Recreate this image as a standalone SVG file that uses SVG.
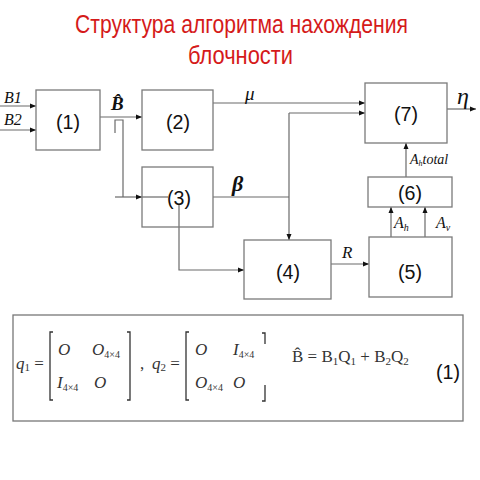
<svg xmlns="http://www.w3.org/2000/svg" width="480" height="480" viewBox="0 0 480 480">
<defs>
<marker id="ah" markerWidth="6" markerHeight="6" refX="6" refY="3" orient="auto" markerUnits="userSpaceOnUse">
<path d="M0,0.5 L6,3 L0,5.5 Z" fill="#111"/>
</marker>
<style>
.box{fill:#fff;stroke:#7a7a7a;stroke-width:1.3}
.ln{fill:none;stroke:#6a6a6a;stroke-width:1.2}
.num{font-family:"Liberation Sans",Arial,sans-serif;font-size:20px;fill:#111;text-anchor:middle}
.m{font-family:"Liberation Serif","Times New Roman",serif;font-style:italic;fill:#111}
.f{font-family:"Liberation Serif","Times New Roman",serif;fill:#333}
.title{font-family:"Liberation Sans",Arial,sans-serif;font-size:26px;fill:#d51a1a}
</style>
</defs>
<rect width="480" height="480" fill="#fff"/>
<text class="title" x="75" y="33" textLength="333" lengthAdjust="spacingAndGlyphs">Структура алгоритма нахождения</text>
<text class="title" x="188" y="64" textLength="105" lengthAdjust="spacingAndGlyphs">блочности</text>

<g id="connectors">
<line class="ln" x1="0" y1="106" x2="36" y2="106" marker-end="url(#ah)"/>
<line class="ln" x1="0" y1="130" x2="36" y2="130" marker-end="url(#ah)"/>
<line class="ln" x1="100" y1="117" x2="142" y2="117" marker-end="url(#ah)"/>
<path class="ln" d="M115,133 V120 H123 V197"/>
<line class="ln" x1="115" y1="197" x2="142" y2="197" marker-end="url(#ah)"/>
<line class="ln" x1="142" y1="197" x2="168" y2="197"/>
<path class="ln" d="M179,205 V270 H244" marker-end="url(#ah)"/>
<line class="ln" x1="213" y1="103" x2="365" y2="103" marker-end="url(#ah)"/>
<line class="ln" x1="213" y1="197" x2="289" y2="197"/>
<path class="ln" d="M289,113 V240" marker-end="url(#ah)"/>
<line class="ln" x1="289" y1="113" x2="365" y2="113" marker-end="url(#ah)"/>
<line class="ln" x1="331" y1="264" x2="369" y2="264" marker-end="url(#ah)"/>
<line class="ln" x1="391" y1="237" x2="391" y2="207" marker-end="url(#ah)"/>
<line class="ln" x1="425" y1="237" x2="425" y2="207" marker-end="url(#ah)"/>
<line class="ln" x1="406" y1="177" x2="406" y2="143" marker-end="url(#ah)"/>
<line class="ln" x1="447" y1="109" x2="476" y2="109" marker-end="url(#ah)"/>
</g>

<g id="n1"><rect class="box" x="36" y="90" width="64" height="60"/><text class="num" x="68" y="129" textLength="24" lengthAdjust="spacingAndGlyphs">(1)</text></g>
<g id="n2"><rect class="box" x="142" y="90" width="71" height="60"/><text class="num" x="178" y="129" textLength="24" lengthAdjust="spacingAndGlyphs">(2)</text></g>
<g id="n3"><rect class="box" x="142" y="167" width="71" height="60" style="fill:none"/><text class="num" x="179" y="205" textLength="24" lengthAdjust="spacingAndGlyphs">(3)</text></g>
<g id="n4"><rect class="box" x="244" y="240" width="87" height="59"/><text class="num" x="288" y="279" textLength="24" lengthAdjust="spacingAndGlyphs">(4)</text></g>
<g id="n5"><rect class="box" x="369" y="237" width="83" height="60"/><text class="num" x="410" y="279" textLength="24" lengthAdjust="spacingAndGlyphs">(5)</text></g>
<g id="n6"><rect class="box" x="368" y="177" width="84" height="30"/><text class="num" x="410" y="200" textLength="24" lengthAdjust="spacingAndGlyphs">(6)</text></g>
<g id="n7"><rect class="box" x="365" y="83" width="82" height="60"/><text class="num" x="406" y="121" textLength="24" lengthAdjust="spacingAndGlyphs">(7)</text></g>

<g id="labels">
<text class="m" x="4" y="103" font-size="16">B1</text>
<text class="m" x="4" y="125" font-size="16">B2</text>
<text class="m" x="111" y="110" font-size="19" font-weight="bold">B̂</text>
<text class="m" x="245" y="100" font-size="19">μ</text>
<text class="m" x="232" y="191" font-size="22" font-weight="bold">β</text>
<text class="m" x="457" y="104" font-size="24">η</text>
<text class="m" x="342" y="258" font-size="17">R</text>
<text class="m" x="394" y="228" font-size="16">A<tspan font-size="10" dy="3">h</tspan></text>
<text class="m" x="436" y="228" font-size="16">A<tspan font-size="10" dy="3">v</tspan></text>
<text class="m" x="410" y="164" font-size="14">A<tspan font-size="8" dy="2">h</tspan><tspan dy="-2">total</tspan></text>
</g>

<g id="formula">
<rect x="13" y="315" width="450" height="106" fill="none" stroke="#777" stroke-width="1.3"/>
<g class="f" font-size="17">
<text x="16" y="369"><tspan font-style="italic">q</tspan><tspan font-size="11" dy="2">1</tspan><tspan dy="-2"> =</tspan></text>
<text x="58" y="355" font-style="italic">O</text>
<text x="92" y="355"><tspan font-style="italic">O</tspan><tspan font-size="10" dy="3">4×4</tspan></text>
<text x="57" y="388"><tspan font-style="italic">I</tspan><tspan font-size="10" dy="3">4×4</tspan></text>
<text x="94" y="388" font-style="italic">O</text>
<text x="140" y="369">,</text>
<text x="152" y="369"><tspan font-style="italic">q</tspan><tspan font-size="11" dy="2">2</tspan><tspan dy="-2"> =</tspan></text>
<text x="195" y="355" font-style="italic">O</text>
<text x="233" y="355"><tspan font-style="italic">I</tspan><tspan font-size="10" dy="3">4×4</tspan></text>
<text x="195" y="388"><tspan font-style="italic">O</tspan><tspan font-size="10" dy="3">4×4</tspan></text>
<text x="233" y="388" font-style="italic">O</text>
<text x="292" y="362">B̂ = B<tspan font-size="11" dy="3">1</tspan><tspan dy="-3">Q</tspan><tspan font-size="11" dy="3">1</tspan><tspan dy="-3"> + B</tspan><tspan font-size="11" dy="3">2</tspan><tspan dy="-3">Q</tspan><tspan font-size="11" dy="3">2</tspan></text>
</g>
<text class="num" x="448" y="379" textLength="24" lengthAdjust="spacingAndGlyphs">(1)</text>
<g fill="none" stroke="#333" stroke-width="1.3">
<path d="M53,332 H50 V400 H53"/>
<path d="M127,332 H130 V400 H127"/>
<path d="M189,332 H186 V400 H189"/>
<path d="M262,333 H265 V344"/>
<path d="M265,385 V401 H262"/>
</g>
</g>
</svg>
